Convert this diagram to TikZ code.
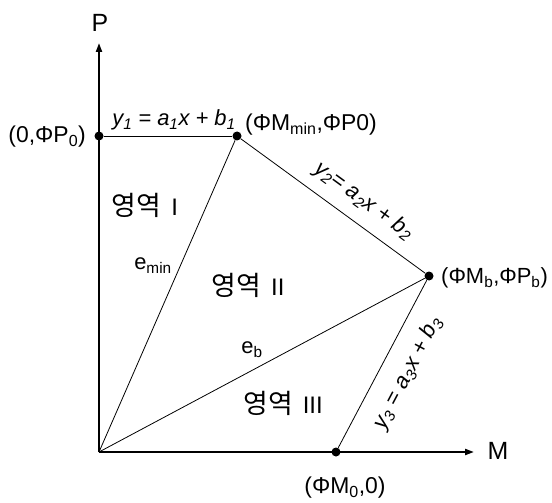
\documentclass[tikz,border=0pt]{standalone}
\usepackage{fontspec}
\setmainfont{Liberation Sans}
\newfontfamily\korfont{Noto Sans CJK KR}
\usetikzlibrary{arrows.meta}
\begin{document}
\begin{tikzpicture}[x=1bp,y=-1bp,
  txt/.style={font=\fontsize{23}{27}\selectfont, inner sep=0pt},
  eqn/.style={font=\fontsize{22}{26}\selectfont\itshape, inner sep=0pt},
  elab/.style={font=\fontsize{22}{26}\selectfont, inner sep=0pt},
  big/.style={font=\fontsize{25}{28}\selectfont, inner sep=0pt},
  kr/.style={font=\fontsize{24}{28}\selectfont, inner sep=0pt},
  dot/.style={circle, fill=black, inner sep=0pt, minimum size=9bp},
  axisline/.style={line width=2bp, -{Triangle[length=9bp,width=6bp]}},
  thinline/.style={line width=0.8bp}]
\useasboundingbox (0,0) rectangle (552,503);
% points
\coordinate (O) at (99,452);
\coordinate (Ptip) at (99,43);
\coordinate (Mtip) at (474,452);
\node[dot] (P0) at (99,136) {};
\node[dot] (Mmin) at (237,136) {};
\node[dot] (Mb) at (429,276) {};
\node[dot] (M0) at (336,452) {};
% axes
\draw[axisline] (O) -- (Ptip);
\draw[axisline] (O) -- (Mtip);
% lines
\draw[thinline] (P0) -- (Mmin);
\draw[thinline] (Mmin) -- (Mb);
\draw[thinline] (Mb) -- (M0);
\draw[thinline] (O) -- (Mmin);
\draw[thinline] (O) -- (Mb);
% axis labels
\node[big] (Plab) at (100,23) {P};
\node[big] (Mlab) at (498,451) {M};
% point labels
\node[txt, anchor=east] (P0lab) at (86,137) {(0,ΦP\textsubscript{0})};
\node[txt, anchor=west] (Mminlab) at (245,125) {(ΦM\textsubscript{min},ΦP0)};
\node[txt, anchor=west, font=\fontsize{22}{26}\selectfont] (Mblab) at (441,278) {(ΦM\textsubscript{b},ΦP\textsubscript{b})};
\node[txt] (M0lab) at (345,488) {(ΦM\textsubscript{0},0)};
% equations
\node[eqn] (eq1) at (174,120) {y\textsubscript{1} = a\textsubscript{1}x + b\textsubscript{1}};
\node[eqn, rotate=-36.1] (eq2) at (364,201) {y\textsubscript{2}= a\textsubscript{2}x + b\textsubscript{2}};
\node[eqn, rotate=62.1] (eq3) at (408,373) {y\textsubscript{3} = a\textsubscript{3}x + b\textsubscript{3}};
% edge labels
\node[elab] (emin) at (153,266) {e\textsubscript{min}};
\node[elab] (eb) at (252,350) {e\textsubscript{b}};
% regions
\node[kr] (r1) at (145,205) {{\korfont\fontsize{27}{30}\selectfont 영역}\hspace{10bp}I};
\node[kr] (r2) at (248,285) {{\korfont\fontsize{27}{30}\selectfont 영역}\hspace{10bp}II};
\node[kr] (r3) at (283,403) {{\korfont\fontsize{27}{30}\selectfont 영역}\hspace{10bp}III};
\end{tikzpicture}
\end{document}
